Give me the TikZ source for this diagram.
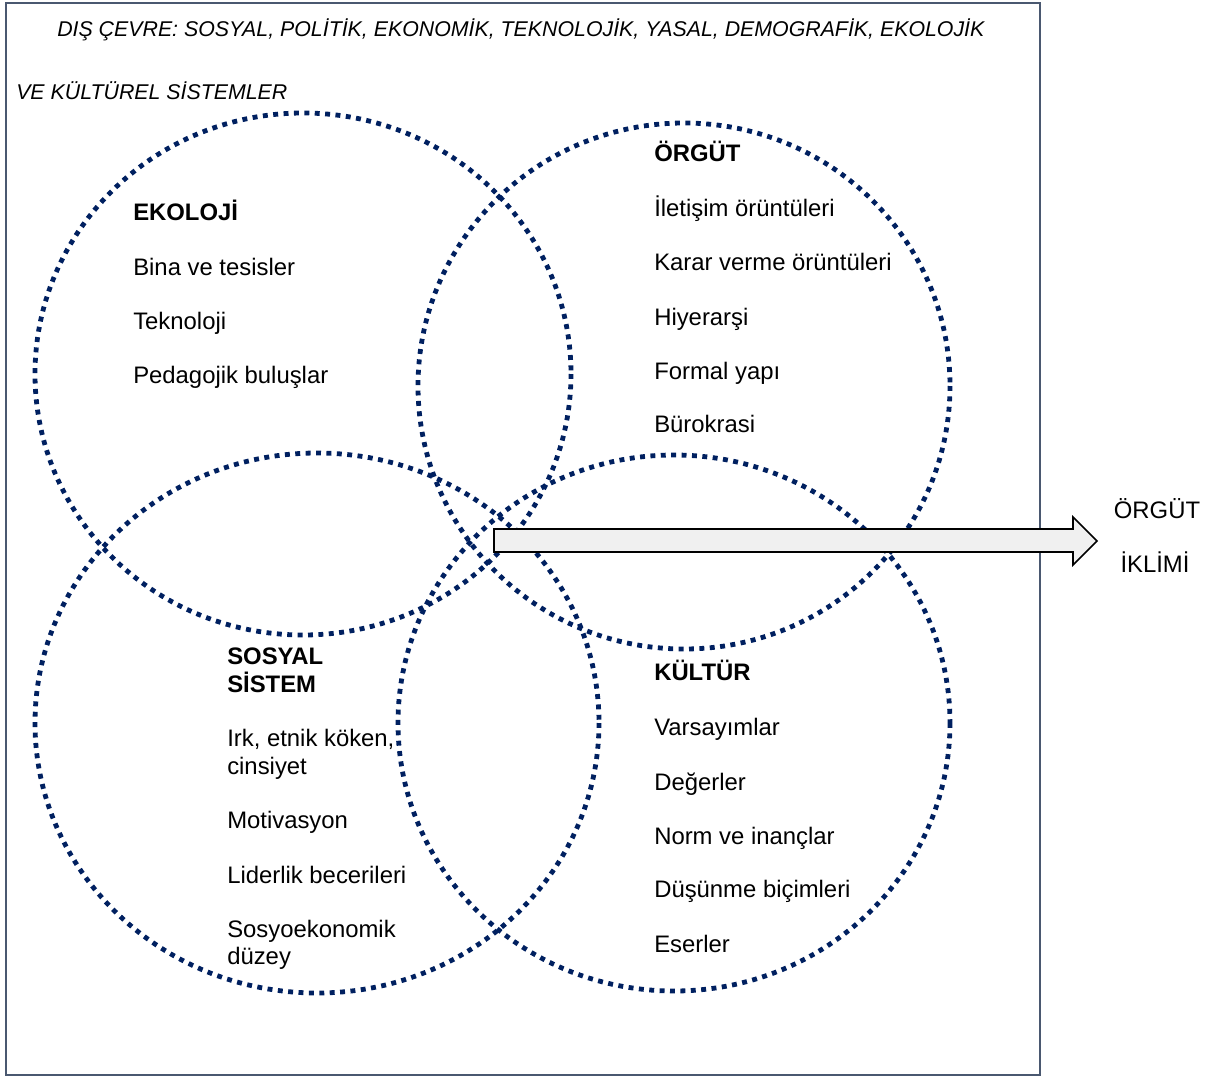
\documentclass[tikz,border=0pt]{standalone}
\usepackage{fontspec}
\setmainfont{Liberation Sans}
\begin{document}
\begin{tikzpicture}[x=0.75pt,y=-0.75pt,
  ring/.style={draw=navy, line width=3.6pt, dash pattern=on 3.7pt off 4.1pt},
  lbl/.style={anchor=base west, inner sep=0pt, font=\fontsize{17.9}{21}\selectfont},
  head/.style={lbl, font=\fontsize{17.9}{21}\selectfont\bfseries},
  env/.style={anchor=base west, inner sep=0pt, font=\fontsize{16}{19}\selectfont\itshape}]
\definecolor{navy}{HTML}{002060}
\definecolor{frame}{HTML}{4A5870}
\definecolor{shaft}{HTML}{F0F0F0}
\useasboundingbox (0,0) rectangle (1215,1079);
% outer frame: the external environment
\draw[frame, line width=1.2pt] (6,3) rectangle (1040,1075);
\node[env] (envA) at (57,36) {DIŞ ÇEVRE: SOSYAL, POLİTİK, EKONOMİK, TEKNOLOJİK, YASAL, DEMOGRAFİK, EKOLOJİK};
\node[env] (envB) at (16,99) {VE KÜLTÜREL SİSTEMLER};
% four overlapping dimensions
\draw[ring] (303,374) ellipse [x radius=268, y radius=261];
\draw[ring] (684,386) ellipse [x radius=266, y radius=263];
\draw[ring] (317,723) ellipse [x radius=282, y radius=270];
\draw[ring] (674,723) ellipse [x radius=276, y radius=268];
% ecology
\node[head] (eko) at (133,220) {EKOLOJİ};
\node[lbl] (eko1) at (133,275) {Bina ve tesisler};
\node[lbl] (eko2) at (133,329) {Teknoloji};
\node[lbl] (eko3) at (133,383) {Pedagojik buluşlar};
% organisation
\node[head] (org) at (654,161) {ÖRGÜT};
\node[lbl] (org1) at (654,216) {İletişim örüntüleri};
\node[lbl] (org2) at (654,270) {Karar verme örüntüleri};
\node[lbl] (org3) at (654,325) {Hiyerarşi};
\node[lbl] (org4) at (654,379) {Formal yapı};
\node[lbl] (org5) at (654,432) {Bürokrasi};
% social system
\node[head] (sos) at (227,664) {SOSYAL};
\node[head] (sosb) at (227,692) {SİSTEM};
\node[lbl] (sos1) at (227,746) {Irk, etnik köken,};
\node[lbl] (sos1b) at (227,774) {cinsiyet};
\node[lbl] (sos2) at (227,828) {Motivasyon};
\node[lbl] (sos3) at (227,883) {Liderlik becerileri};
\node[lbl] (sos4) at (227,937) {Sosyoekonomik};
\node[lbl] (sos4b) at (227,964) {düzey};
% culture
\node[head] (kul) at (654,680) {KÜLTÜR};
\node[lbl] (kul1) at (654,735) {Varsayımlar};
\node[lbl] (kul2) at (654,790) {Değerler};
\node[lbl] (kul3) at (654,844) {Norm ve inançlar};
\node[lbl] (kul4) at (654,897) {Düşünme biçimleri};
\node[lbl] (kul5) at (654,952) {Eserler};
% result: organisational climate
\node[anchor=base, inner sep=0pt, font=\fontsize{17.9}{21}\selectfont] (clim) at (1157,518) {ÖRGÜT};
\node[anchor=base, inner sep=0pt, font=\fontsize{17.9}{21}\selectfont] (climb) at (1155,572) {İKLİMİ};
\draw[fill=shaft, draw=black, line width=1.2pt, line join=miter]
  (494,529) -- (1073,529) -- (1073,517) -- (1097,541) -- (1073,565) -- (1073,552) -- (494,552) -- cycle;
\end{tikzpicture}
\end{document}
